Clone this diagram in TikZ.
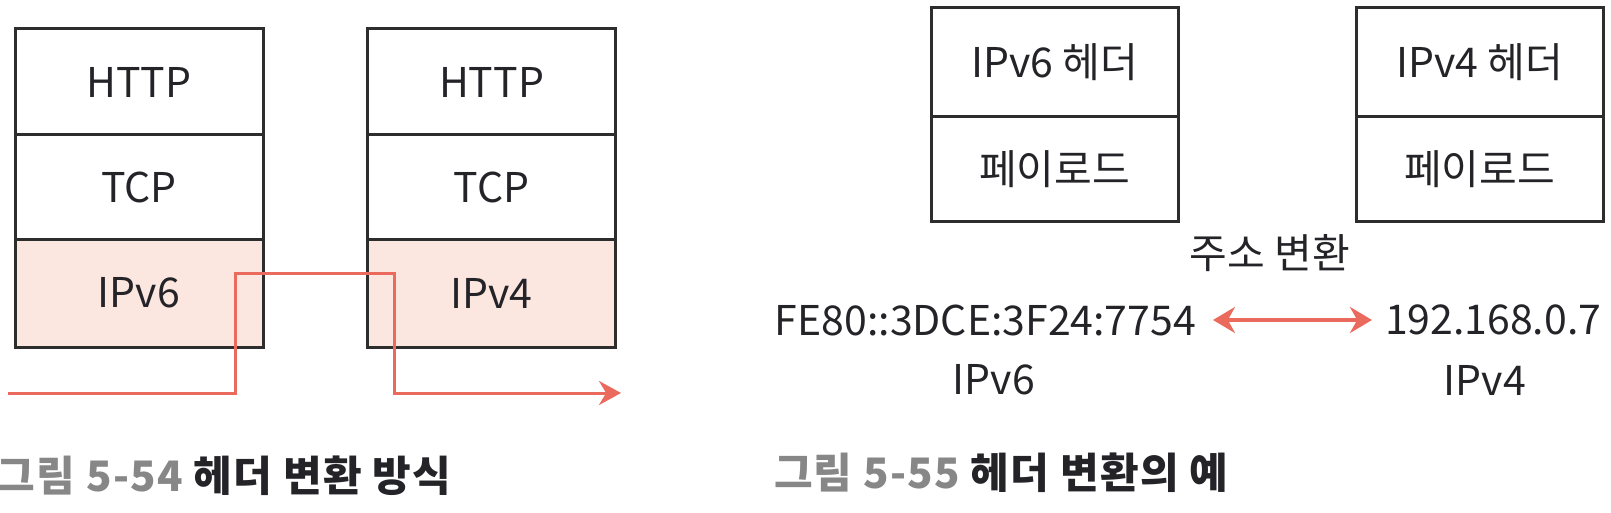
\documentclass[tikz,border=0pt]{standalone}
\usepackage{fontspec}
\setmainfont{Noto Sans CJK KR}
\usetikzlibrary{arrows.meta}
\definecolor{lineRed}{RGB}{234,106,94}
\definecolor{cellPink}{RGB}{252,230,224}
\definecolor{edgeGray}{RGB}{45,45,45}
\definecolor{capGray}{RGB}{135,135,135}
\definecolor{capDark}{RGB}{35,35,40}
\begin{document}
\begin{tikzpicture}[x=1pt,y=-1pt,
  every node/.style={inner sep=0pt,outer sep=0pt,font=\fontsize{41}{44}\selectfont,text=capDark},
  cell/.style={draw=edgeGray,line width=3pt,minimum width=248pt,anchor=center},
  pinkcell/.style={cell,fill=cellPink},
  redline/.style={draw=lineRed,line width=3pt},
  captxt/.style={font=\fontsize{42}{44}\selectfont\bfseries\addfontfeature{LetterSpace=3},anchor=west}]
\useasboundingbox (0,0) rectangle (1611,513);
% Figure 5-54
\node[cell,minimum height=106pt] (http1) at (139,82) {HTTP};
\node[cell,minimum height=104pt] (tcp1) at (139,187) {TCP};
\node[pinkcell,minimum height=108pt] (ip6) at (139,293) {IPv6};
\node[cell,minimum height=106pt] (http2) at (491.5,82) {HTTP};
\node[cell,minimum height=104pt] (tcp2) at (491.5,187) {TCP};
\node[pinkcell,minimum height=108pt] (ip4) at (491.5,293) {IPv4};
\coordinate (rs) at (8,393);
\coordinate (re) at (621,393);
\draw[redline,-{Stealth[length=22pt,width=24pt]}] (rs) -- (235,393) -- (235,273) -- (394,273) -- (394,393) -- (re);
\node[captxt] (cap1) at (-3,476) {\textcolor{capGray}{그림 5-54} 헤더 변환 방식};
% Figure 5-55
\node[cell,minimum width=247pt,minimum height=109pt] (h6) at (1054.5,62.5) {IPv6 헤더};
\node[cell,minimum width=247pt,minimum height=104pt] (p6) at (1054.5,169) {페이로드};
\node[cell,minimum width=247pt,minimum height=109pt] (h4) at (1479.5,62.5) {IPv4 헤더};
\node[cell,minimum width=247pt,minimum height=104pt] (p4) at (1479.5,169) {페이로드};
\node (conv) at (1270,253) {주소 변환};
\node[anchor=east] (addr6) at (1196,320) {FE80::3DCE:3F24:7754};
\node[anchor=west] (addr4) at (1385,320) {192.168.0.7};
\node (lbl6) at (994,380) {IPv6};
\node (lbl4) at (1485,380) {IPv4};
\draw[redline,line width=3.5pt,{Stealth[length=22pt,width=26pt]}-{Stealth[length=22pt,width=26pt]}] ([xshift=17pt]addr6.east) -- ([xshift=-13pt]addr4.west);
\node[captxt] (cap2) at (774,473) {\textcolor{capGray}{그림 5-55} 헤더 변환의 예};
\end{tikzpicture}
\end{document}
